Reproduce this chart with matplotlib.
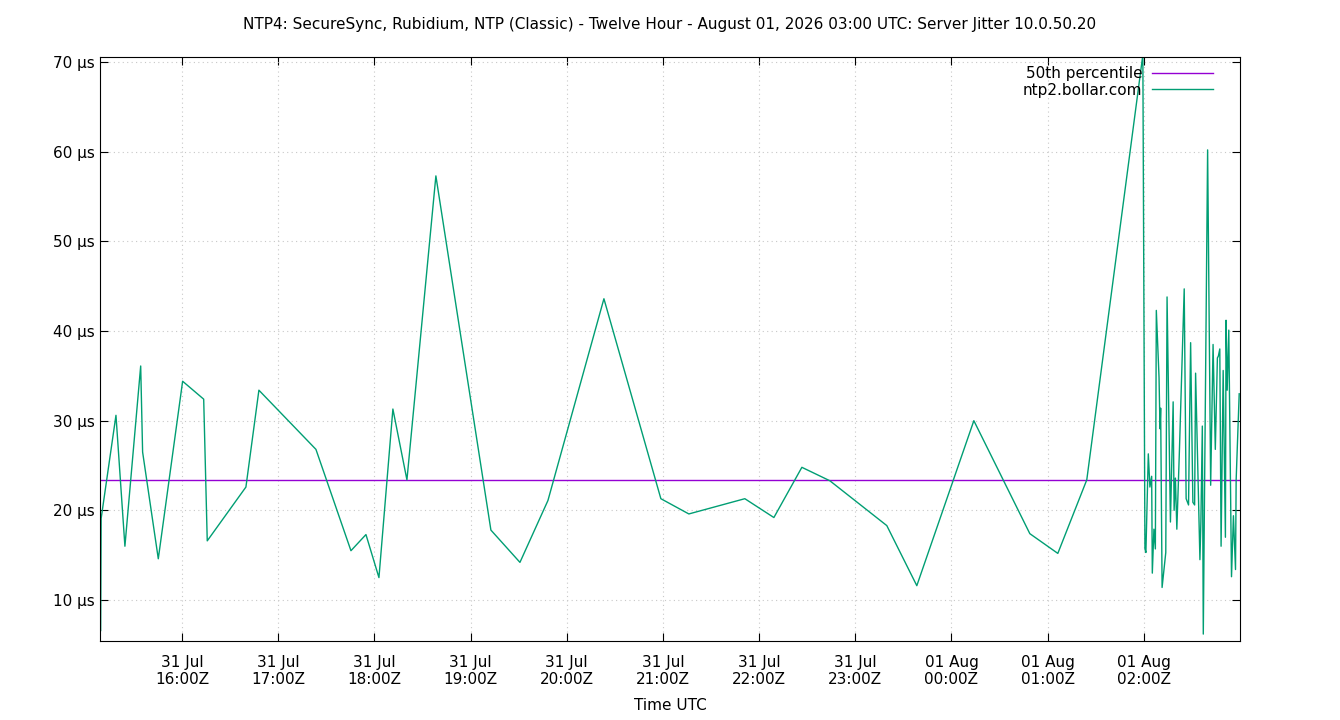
import matplotlib
matplotlib.use("Agg")
import matplotlib.pyplot as plt

# sparse part: hours (24 = 00:00 Aug 01)
hours_sparse = [15.155, 15.16, 15.314, 15.407, 15.571, 15.591, 15.754, 16.007, 16.226, 16.263,
                16.665, 16.800, 17.393, 17.757, 17.913, 18.048, 18.193, 18.339, 18.640, 19.212,
                19.514, 19.805, 20.387, 20.979, 21.270, 21.852, 22.154, 22.445, 22.736, 23.328,
                23.640, 24.233, 24.815, 25.106, 25.407, 25.990]
jitter_sparse = [6.6, 19.1, 30.6, 16.0, 36.1, 26.5, 14.6, 34.4, 32.4, 16.6,
                 22.6, 33.4, 26.8, 15.5, 17.3, 12.5, 31.3, 23.4, 57.3, 17.8,
                 14.2, 21.1, 43.6, 21.3, 19.6, 21.3, 19.2, 24.8, 23.3, 18.3,
                 11.6, 30.0, 17.4, 15.2, 23.4, 70.8]
# dense part: minutes after 02:00Z
minutes_dense = [0.7, 1.3, 2.8, 3.8, 4.9, 5.3, 6.3, 7.2, 7.8, 9.5, 10.1, 10.5, 11.4, 13.7, 14.5,
                 16.6, 18.3, 18.9, 19.7, 20.6, 22.2, 25.2, 26.4, 27.9, 28.3, 29.2, 30.6, 31.7,
                 32.3, 35.0, 35.6, 36.5, 37.1, 37.7, 39.8, 41.7, 43.2, 44.6, 45.9, 46.5, 47.4,
                 48.2, 49.5, 50.9, 51.3, 52.0, 53.0, 54.7, 55.9, 57.2, 57.6, 59.5]
jitter_dense = [15.7, 15.3, 26.3, 22.6, 23.8, 13.0, 17.9, 15.7, 42.3, 34.8, 29.1, 31.4, 11.4, 15.3,
                43.8, 18.7, 32.1, 20.0, 23.6, 17.9, 26.6, 44.7, 21.3, 20.6, 26.4, 38.7, 20.9, 20.6,
                35.3, 14.5, 18.7, 29.4, 6.2, 18.5, 60.2, 22.8, 38.5, 26.8, 37.0, 37.2, 38.0,
                16.0, 35.6, 17.0, 41.2, 33.4, 40.1, 12.6, 19.4, 13.4, 23.4, 33.0]
median_value = 23.4
tick_hours = list(range(16, 27))
tick_labels = ["31 Jul\n16:00Z", "31 Jul\n17:00Z", "31 Jul\n18:00Z", "31 Jul\n19:00Z", "31 Jul\n20:00Z",
               "31 Jul\n21:00Z", "31 Jul\n22:00Z", "31 Jul\n23:00Z", "01 Aug\n00:00Z", "01 Aug\n01:00Z",
               "01 Aug\n02:00Z"]
yticks = [10, 20, 30, 40, 50, 60, 70]

hours = hours_sparse + [26 + m / 60 for m in minutes_dense]
jit = jitter_sparse + jitter_dense

fig = plt.figure(figsize=(13.4, 7.2), dpi=100)
ax = fig.add_axes([100/1340, 1-641/720, 1140/1340, 584/720])
x0, x1 = 15.148, 27.0
ax.plot([x0, x1], [median_value]*2, color="#9400d3", lw=1, label="50th percentile")
ax.plot(hours, jit, color="#009e73", lw=1, label="ntp2.bollar.com")
ax.set_xlim(x0, x1)
ax.set_ylim(5.43, 70.56)
ax.set_xticks(tick_hours)
ax.set_xticklabels(tick_labels, fontsize=11)
ax.set_yticks(yticks)
ax.set_yticklabels([f"{v} µs" for v in yticks], fontsize=11)
ax.grid(True, color="#c8c8c8", linestyle=(0, (1, 3)), lw=0.8)
ax.tick_params(direction="in", length=6, top=True, right=True)
ax.tick_params(axis="x", pad=10)
ax.set_xlabel("Time UTC", fontsize=11, labelpad=8)
ax.set_title("NTP4: SecureSync, Rubidium, NTP (Classic) - Twelve Hour - August 01, 2026 03:00 UTC: Server Jitter 10.0.50.20",
             fontsize=11, pad=20)
leg = ax.legend(loc="upper right", bbox_to_anchor=(1 - 18/1140, 1.0), frameon=False, fontsize=11,
                markerfirst=False, handlelength=4.0, handletextpad=0.6,
                borderaxespad=0.2, labelspacing=0.1)
for t in leg.get_texts():
    t.set_ha("right")
leg._legend_box.align = "right"
fig.savefig("out.png")
